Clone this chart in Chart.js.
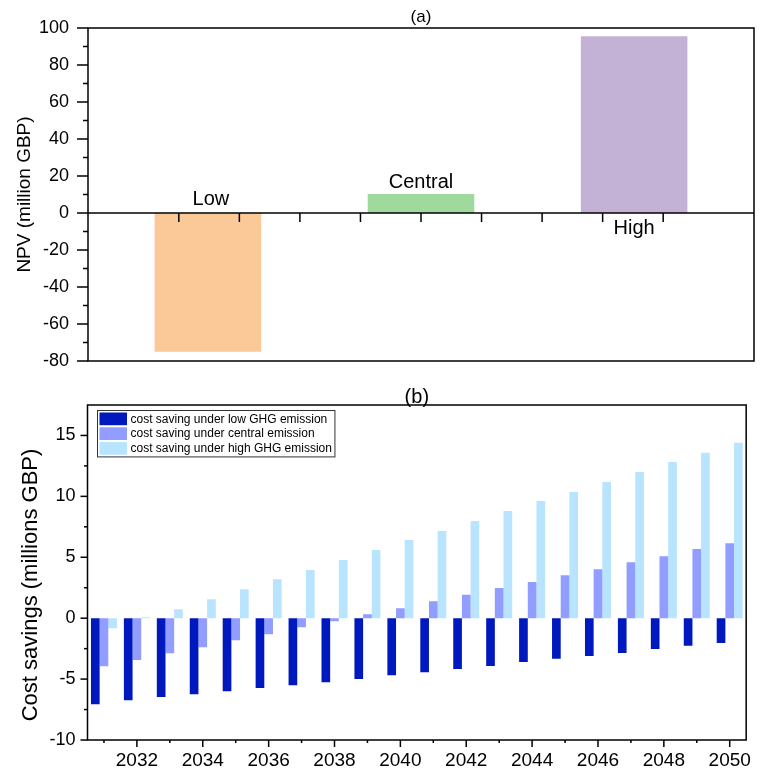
<!DOCTYPE html>
<html>
<head>
<meta charset="utf-8">
<title>NPV and yearly cost savings</title>
<script src="https://cdn.jsdelivr.net/npm/chart.js@4.4.1/dist/chart.umd.min.js"></script>
<style>
  body { margin: 0; background: #fff; }
  .panel { position: relative; width: 760px; }
  #panelA { height: 380px; }
  #panelB { height: 391px; }
</style>
</head>
<body>
<div class="panel" id="panelA"><canvas id="npvChart"></canvas></div>
<div class="panel" id="panelB"><canvas id="savingChart"></canvas></div>
<script>
// (a) NPV for each emission scenario
const scenarios = ['Low', 'Central', 'High'];
const npv = [-75, 10.3, 95.5];

// (b) yearly cost savings
const years = ['2031', '2032', '2033', '2034', '2035', '2036', '2037', '2038', '2039', '2040',
               '2041', '2042', '2043', '2044', '2045', '2046', '2047', '2048', '2049', '2050'];
const savingLow = [-7.07, -6.74, -6.47, -6.25, -6.0, -5.73, -5.51, -5.26, -5.0, -4.68,
                   -4.44, -4.17, -3.92, -3.59, -3.34, -3.1, -2.85, -2.52, -2.27, -2.03];
const savingCentral = [-3.95, -3.43, -2.88, -2.38, -1.81, -1.32, -0.74, -0.25, 0.33, 0.82,
                       1.4, 1.92, 2.47, 2.96, 3.53, 4.02, 4.6, 5.09, 5.67, 6.16];
const savingHigh = [-0.82, 0.08, 0.74, 1.56, 2.38, 3.2, 3.95, 4.77, 5.59, 6.41,
                    7.15, 7.97, 8.8, 9.62, 10.36, 11.18, 12.0, 12.83, 13.57, 14.4];
const seriesNames = ['cost saving under low GHG emission',
                     'cost saving under central emission',
                     'cost saving under high GHG emission'];

const FONT = "'Liberation Sans', Arial, sans-serif";
Chart.defaults.font.family = FONT;
Chart.defaults.color = '#000';
Chart.defaults.animation = false;

const npvColors = ['#fbc898', '#9fd99b', '#c3b2d6'];
const savingColors = ['#0019bf', '#919dff', '#b8e4ff'];
// where the scenario name sits: above the base, above the top, below the base
const labelSpot = ['aboveBase', 'aboveTop', 'belowBase'];

function line(ctx, x1, y1, x2, y2) {
  ctx.beginPath();
  ctx.moveTo(x1, y1);
  ctx.lineTo(x2, y2);
  ctx.stroke();
}

function verticalTitle(ctx, text, x, y, size) {
  ctx.save();
  ctx.translate(x, y);
  ctx.rotate(-Math.PI / 2);
  ctx.font = size + 'px ' + FONT;
  ctx.textAlign = 'center';
  ctx.textBaseline = 'middle';
  ctx.fillStyle = '#000';
  ctx.fillText(text, 0, 0);
  ctx.restore();
}

const decorA = {
  id: 'decorA',
  afterDatasetsDraw(chart) {
    const { ctx, chartArea: a, scales: { y, xt } } = chart;
    ctx.save();
    ctx.strokeStyle = '#000';
    ctx.lineWidth = 1.5;
    ctx.strokeRect(a.left, a.top, a.right - a.left, a.bottom - a.top);

    const y0 = y.getPixelForValue(0);
    line(ctx, a.left, y0, a.right, y0);
    xt.ticks.forEach(t => {
      if (t.value > xt.min && t.value < xt.max) {
        const px = xt.getPixelForValue(t.value);
        line(ctx, px, y0, px, y0 + 9);
      }
    });
    for (let v = y.min; v <= y.max; v += 10) {
      const py = y.getPixelForValue(v);
      line(ctx, a.left - (v % 20 === 0 ? 11 : 5), py, a.left, py);
    }

    // scenario names
    ctx.fillStyle = '#000';
    ctx.font = '20px ' + FONT;
    ctx.textAlign = 'center';
    ctx.textBaseline = 'alphabetic';
    chart.getDatasetMeta(0).data.forEach((bar, i) => {
      let ty;
      if (labelSpot[i] === 'aboveBase') ty = bar.base - 8.5;
      else if (labelSpot[i] === 'aboveTop') ty = bar.y - 5.5;
      else ty = bar.base + 20.5;
      ctx.fillText(scenarios[i], bar.x + (i === 0 ? 3 : 0), ty);
    });

    ctx.font = '17px ' + FONT;
    ctx.fillText('(a)', (a.left + a.right) / 2, a.top - 6.5);
    ctx.restore();
    verticalTitle(ctx, 'NPV (million GBP)', 24.5, (a.top + a.bottom) / 2, 19);
  }
};

const decorB = {
  id: 'decorB',
  afterDatasetsDraw(chart) {
    const { ctx, chartArea: a, scales: { x, y } } = chart;
    ctx.save();
    ctx.strokeStyle = '#000';
    ctx.lineWidth = 1.5;
    ctx.strokeRect(a.left, a.top, a.right - a.left, a.bottom - a.top);

    x.ticks.forEach((t, i) => {
      const px = x.getPixelForTick(i);
      line(ctx, px, a.bottom, px, a.bottom + (Number(years[i]) % 2 === 0 ? 7 : 3));
    });
    for (let v = y.min; v < y.max; v += 2.5) {
      const py = y.getPixelForValue(v);
      line(ctx, a.left - (v % 5 === 0 ? 7 : 3.5), py, a.left, py);
    }

    // legend box in the upper left corner
    ctx.font = '12px ' + FONT;
    const textW = Math.max(...seriesNames.map(s => ctx.measureText(s).width));
    const bx = a.left + 10, by = a.top + 5.5, rowH = 14.8;
    ctx.lineWidth = 1;
    ctx.strokeStyle = '#333';
    ctx.fillStyle = '#fff';
    ctx.fillRect(bx, by, 32 + textW + 4, rowH * 3 + 2);
    ctx.strokeRect(bx, by, 32 + textW + 4, rowH * 3 + 2);
    ctx.textAlign = 'left';
    ctx.textBaseline = 'middle';
    chart.data.datasets.forEach((ds, i) => {
      const cy = by + 8.3 + i * rowH;
      ctx.fillStyle = ds.backgroundColor;
      ctx.fillRect(bx + 2, cy - 6.3, 27.5, 12.7);
      ctx.fillStyle = '#000';
      ctx.fillText(ds.label, bx + 33, cy + 0.5);
    });

    ctx.font = '20px ' + FONT;
    ctx.textAlign = 'center';
    ctx.textBaseline = 'alphabetic';
    ctx.fillText('(b)', (a.left + a.right) / 2, a.top - 2.5);
    ctx.restore();
    verticalTitle(ctx, 'Cost savings (millions GBP)', 31.3, (a.top + a.bottom) / 2 + 12.5, 22);
  }
};

new Chart(document.getElementById('npvChart'), {
  type: 'bar',
  data: {
    datasets: [{
      data: npv.map((v, i) => ({ x: i, y: v })),
      backgroundColor: npvColors,
      barPercentage: 0.5,
      categoryPercentage: 1
    }]
  },
  options: {
    responsive: true,
    maintainAspectRatio: false,
    layout: { padding: { top: 28, right: 6, bottom: 19, left: 0 } },
    plugins: { legend: { display: false }, tooltip: { enabled: false } },
    scales: {
      x: {
        type: 'linear', min: -0.5625, max: 2.5625, display: false,
        ticks: { display: false },
        afterBuildTicks: s => { s.ticks = []; }
      },
      xt: { type: 'linear', axis: 'x', min: 0, max: 10, display: false, ticks: { stepSize: 1 } },
      y: {
        min: -80, max: 100,
        ticks: { stepSize: 20, padding: 0, font: { size: 18 }, color: '#000' },
        grid: { display: false, drawTicks: true, tickLength: 19 },
        border: { display: false },
        afterFit: s => { s.width = 88; }
      }
    }
  },
  plugins: [decorA]
});

new Chart(document.getElementById('savingChart'), {
  type: 'bar',
  data: {
    labels: years,
    datasets: [savingLow, savingCentral, savingHigh].map((vals, i) => ({
      label: seriesNames[i],
      data: vals,
      backgroundColor: savingColors[i],
      categoryPercentage: 0.79,
      barPercentage: 1
    }))
  },
  options: {
    responsive: true,
    maintainAspectRatio: false,
    layout: { padding: { top: 25, right: 6, bottom: 0, left: 0 } },
    plugins: { legend: { display: false }, tooltip: { enabled: false } },
    scales: {
      x: {
        ticks: {
          autoSkip: false, maxRotation: 0, padding: 9, font: { size: 19 }, color: '#000',
          callback: (val, i) => (Number(years[i]) % 2 === 0 ? years[i] : '')
        },
        grid: { display: false, drawTicks: false, tickLength: 0 },
        border: { display: false },
        afterFit: s => { s.height = 31; }
      },
      y: {
        min: -10, max: 17.5,
        ticks: { stepSize: 5, includeBounds: false, padding: 0, font: { size: 18 }, color: '#000' },
        grid: { display: false, drawTicks: true, tickLength: 12 },
        border: { display: false },
        afterFit: s => { s.width = 87.5; }
      }
    }
  },
  plugins: [decorB]
});
</script>
</body>
</html>
